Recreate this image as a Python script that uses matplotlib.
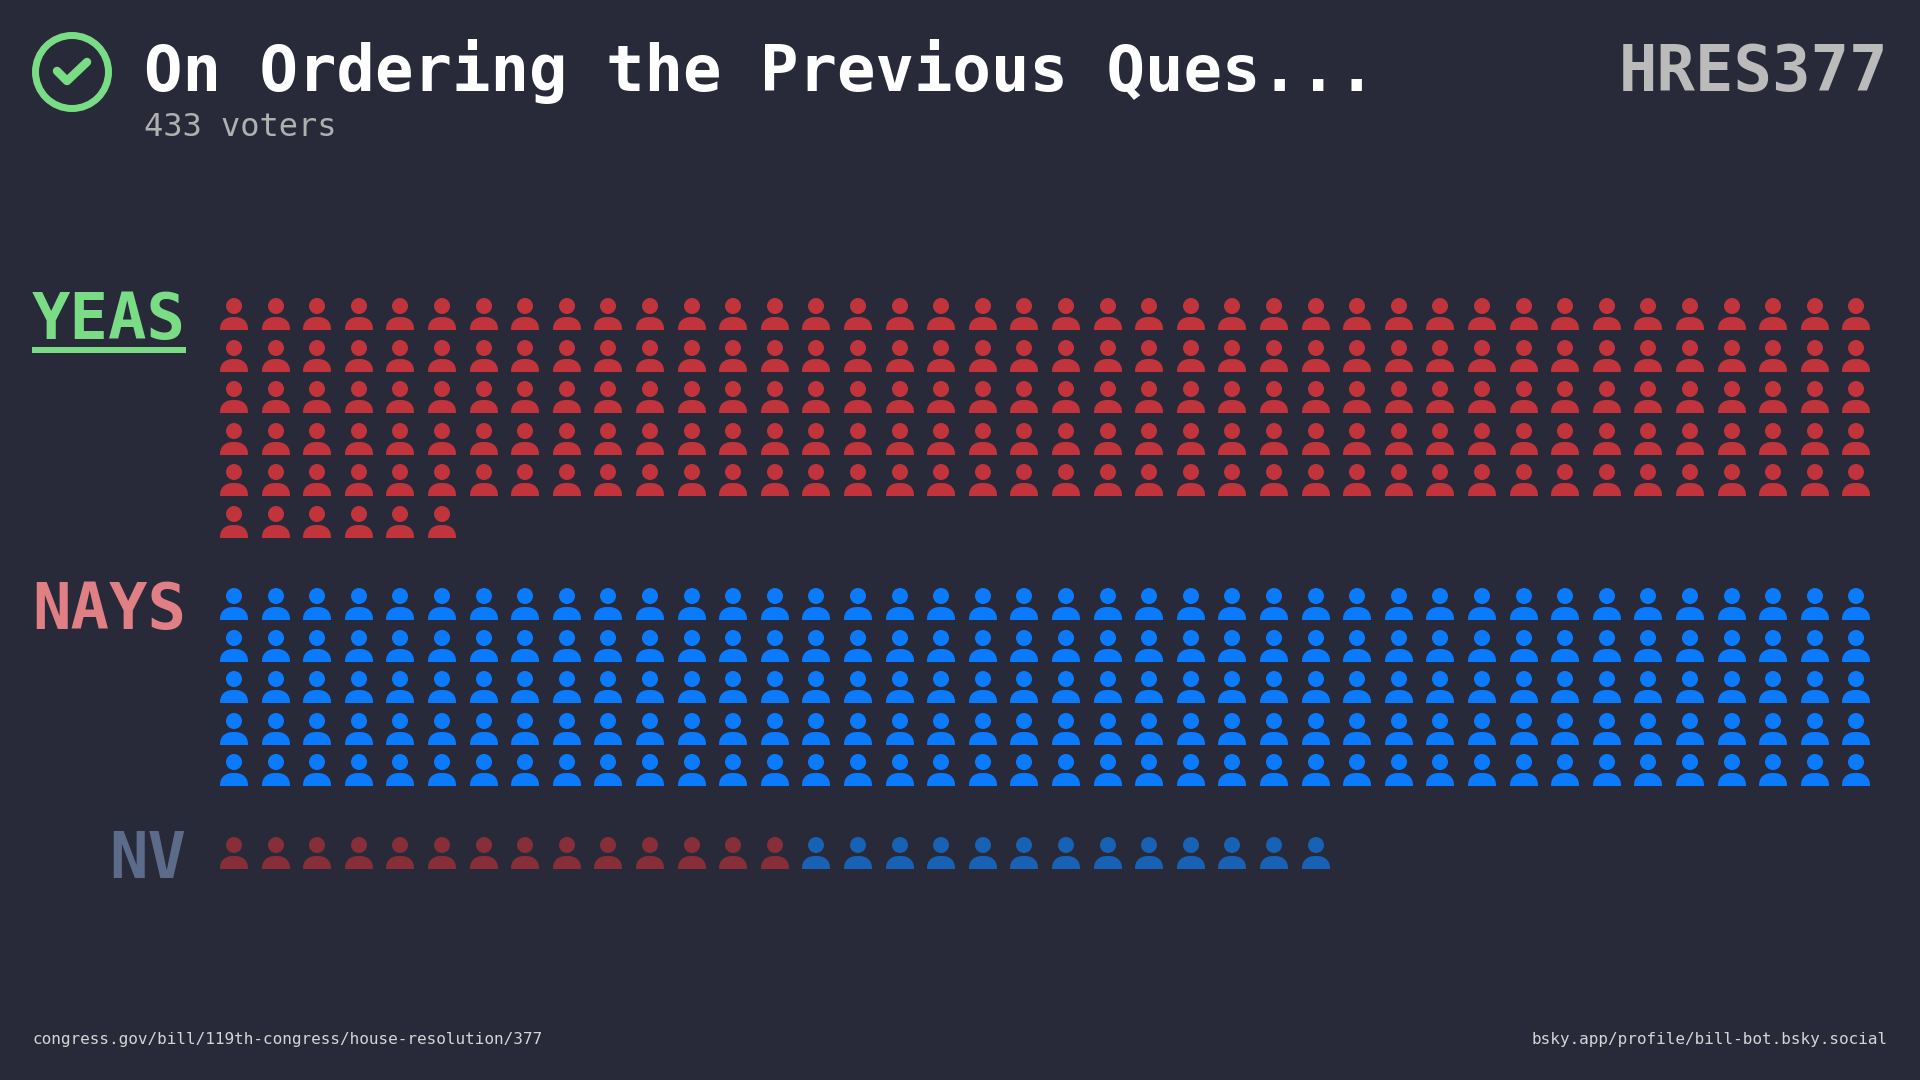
"""
Roll call vote chart: one person icon per voter, grouped by vote
"""
import numpy as np
import matplotlib
matplotlib.use('Agg')
import matplotlib.pyplot as plt
from matplotlib.path import Path
from matplotlib.patches import Circle

# Vote data
title = 'On Ordering the Previous Ques...'
bill_id = 'HRES377'
subtitle = '433 voters'
source_left = 'congress.gov/bill/119th-congress/house-resolution/377'
source_right = 'bsky.app/profile/bill-bot.bsky.social'

group_labels = ['YEAS', 'NAYS', 'NV']
rep_counts = [206, 0, 14]
dem_counts = [0, 200, 13]

# Colors
BG = '#282a3a'
GREEN = '#7adc85'
RED = '#c1343c'
BLUE = '#0a7bff'
RED_DIM = '#872e38'
BLUE_DIM = '#1762b5'
label_colors = [GREEN, '#e08085', '#5d6b8a']

# Layout in pixels
COLS = 40
X0 = 234
DX = 41.6
DY = 41.6
group_tops = [314, 604, 853]  # marker center of each group's first row


def person_marker():
    """Head circle plus a domed body, centered on the origin."""
    head = Path.circle((0, 8), 8)
    t = np.linspace(np.pi, 0, 40)
    # slightly squared-off dome, flatter on top than a plain ellipse
    bx = 14 * np.sign(np.cos(t)) * np.abs(np.cos(t)) ** (2 / 2.4)
    by = -16 + 13 * np.sin(t) ** (2 / 2.4)
    body_verts = np.column_stack([bx, by])
    body_verts = np.vstack([body_verts, [[14, -16], [-14, -16], [-14, -16]]])
    codes = [Path.MOVETO] + [Path.LINETO] * (len(body_verts) - 2) + [Path.CLOSEPOLY]
    return Path.make_compound_path(head, Path(body_verts, codes))


fig = plt.figure(figsize=(19.2, 10.8), dpi=100, facecolor=BG)
ax = fig.add_axes([0, 0, 1, 1])
ax.set_xlim(0, 1920)
ax.set_ylim(1080, 0)
ax.axis('off')

marker = person_marker()
marker_size = (2 * 16 * 0.72) ** 2

# Draw the icons group by group, filling rows left to right
for i, label in enumerate(group_labels):
    total = rep_counts[i] + dem_counts[i]
    idx = np.arange(total)
    xs = np.round(X0 + (idx % COLS) * DX)
    ys = np.round(group_tops[i] + (idx // COLS) * DY)
    if label == 'NV':
        colors = [RED_DIM] * rep_counts[i] + [BLUE_DIM] * dem_counts[i]
    else:
        colors = [RED] * rep_counts[i] + [BLUE] * dem_counts[i]
    ax.scatter(xs, ys, s=marker_size, marker=marker, c=colors, linewidths=0)

# Group labels
label_baselines = [339, 629, 878]
for label, color, y in zip(group_labels, label_colors, label_baselines):
    ax.text(186, y, label, color=color, fontsize=46, family='DejaVu Sans Mono',
            weight='bold', ha='right', va='baseline')
ax.plot([32, 186], [350, 350], color=GREEN, lw=6 * 0.72, solid_capstyle='butt')

# Passed icon
ax.add_patch(Circle((72, 72), 36.5, fill=False, edgecolor=GREEN, lw=7 * 0.72))
ax.plot([57, 67, 87], [71, 81, 62], color=GREEN, lw=8.5 * 0.72,
        solid_capstyle='round', solid_joinstyle='round')

# Header
ax.text(144, 91, title, color='white', fontsize=46, family='DejaVu Sans Mono',
        weight='bold', ha='left', va='baseline')
ax.text(1888, 91, bill_id, color='#bbbbbb', fontsize=46, family='DejaVu Sans Mono',
        weight='bold', ha='right', va='baseline')
ax.text(144, 136, subtitle, color='#b0b0b0', fontsize=23, family='DejaVu Sans Mono',
        ha='left', va='baseline')

# Footer
ax.text(32, 1044, source_left, color='#d5d5d5', fontsize=11.5, family='DejaVu Sans Mono',
        ha='left', va='baseline')
ax.text(1888, 1044, source_right, color='#d5d5d5', fontsize=11.5, family='DejaVu Sans Mono',
        ha='right', va='baseline')

fig.savefig('out.png', dpi=100, facecolor=BG)
